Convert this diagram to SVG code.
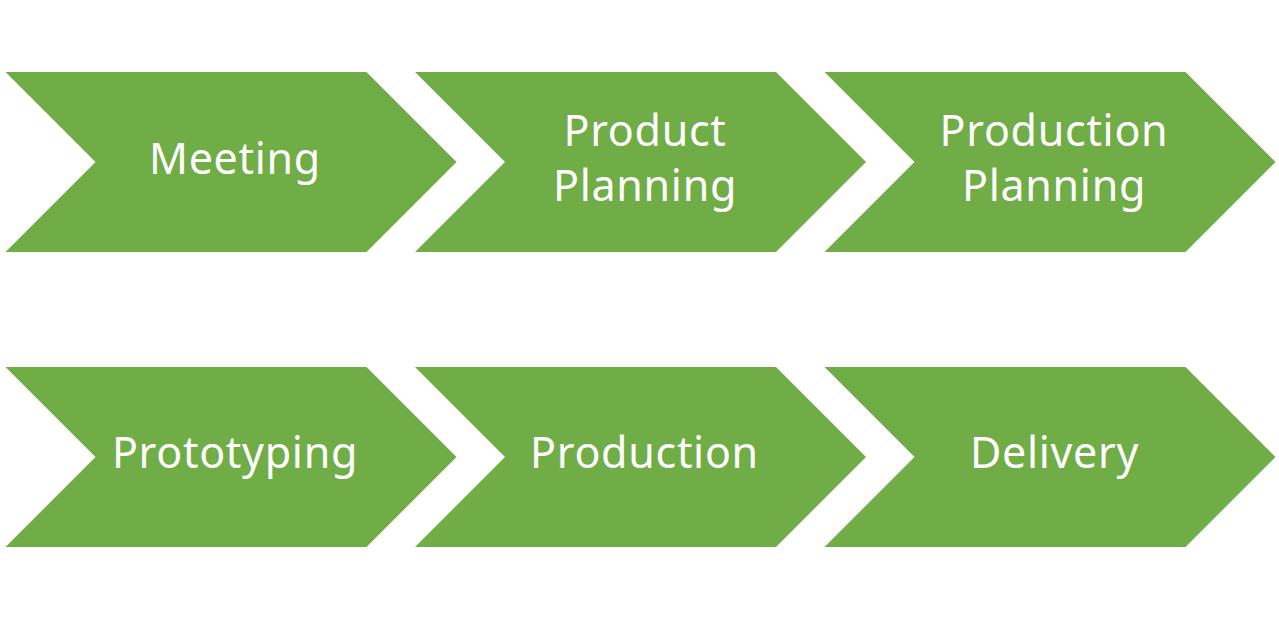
<svg xmlns="http://www.w3.org/2000/svg" width="1279" height="619" viewBox="0 0 1279 619">
<defs>
<style>
.chev{fill:#70AD47;}
.lbl{fill:#FFFFFF;font-family:"Noto Sans","Open Sans","DejaVu Sans",sans-serif;font-size:43px;letter-spacing:0.7px;text-anchor:middle;}
</style>
<path id="shape" d="M0,0 H361 L451,90 L361,180 H0 L90,90 Z"/>
</defs>
<rect width="1279" height="619" fill="#FFFFFF"/>
<g id="connectors"></g>
<g id="meeting" transform="translate(5.5,72)">
<use href="#shape" class="chev"/>
<text class="lbl" x="229.5" y="101.5">Meeting</text>
</g>
<g id="product-planning" transform="translate(415,72)">
<use href="#shape" class="chev"/>
<text class="lbl" x="230" y="73.5">Product</text>
<text class="lbl" x="230" y="128.5">Planning</text>
</g>
<g id="production-planning" transform="translate(824.5,72)">
<use href="#shape" class="chev"/>
<text class="lbl" x="229.5" y="73.5">Production</text>
<text class="lbl" x="229.5" y="128.5">Planning</text>
</g>
<g id="prototyping" transform="translate(5.5,367)">
<use href="#shape" class="chev"/>
<text class="lbl" x="229.5" y="100.5">Prototyping</text>
</g>
<g id="production" transform="translate(415,367)">
<use href="#shape" class="chev"/>
<text class="lbl" x="229.5" y="100.5">Production</text>
</g>
<g id="delivery" transform="translate(824.5,367)">
<use href="#shape" class="chev"/>
<text class="lbl" x="230" y="100.5">Delivery</text>
</g>
</svg>
